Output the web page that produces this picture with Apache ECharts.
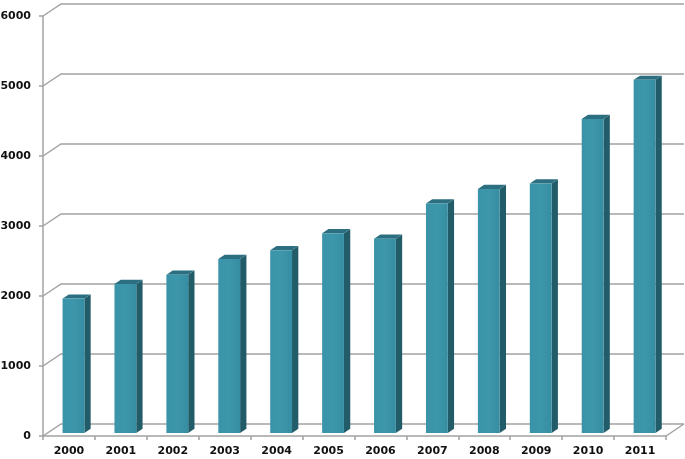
<!DOCTYPE html>
<html>
<head>
<meta charset="utf-8">
<script src="https://cdn.jsdelivr.net/npm/echarts@6/dist/echarts.min.js"></script>
<style>html,body{margin:0;padding:0;background:#fff}#c{width:685px;height:459px}</style>
</head>
<body>
<div id="c"></div>
<script>
const years = ['2000','2001','2002','2003','2004','2005','2006','2007','2008','2009','2010','2011'];
const values = [1920, 2130, 2260, 2485, 2610, 2855, 2775, 3280, 3485, 3565, 4485, 5045];
const yTicks = [0, 1000, 2000, 3000, 4000, 5000, 6000];

const DX = 18, DY = -12;          // full depth offset of the back wall
const FRONT = 0.25, BACK = 0.6;    // bar depth range (fraction of full depth)
const BAR_FRAC = 0.42;             // bar width as fraction of category band
const GRID_COLOR = '#a3a3a3';

const chart = echarts.init(document.getElementById('c'));

function wallItem(params, api) {
  const cs = params.coordSys;
  const v = api.value(1);
  const y = api.coord([0, v])[1];
  const x0 = cs.x, x1 = cs.x + cs.width;
  const children = [{
    type: 'polyline',
    shape: { points: [[x0, y], [x0 + DX, y + DY], [x1 + DX, y + DY]] },
    style: { stroke: GRID_COLOR, lineWidth: 1.5, fill: null }
  }];
  if (v === 0) {
    children.push({
      type: 'line',
      shape: { x1: x1, y1: y, x2: x1 + DX, y2: y + DY },
      style: { stroke: GRID_COLOR, lineWidth: 1.5 }
    });
  }
  return { type: 'group', children: children };
}

function barItem(params, api) {
  const i = api.value(0), v = api.value(1);
  const top = api.coord([i, v]);
  const base = api.coord([i, 0]);
  const band = api.size([1, 0])[0];
  const w = band * BAR_FRAC;
  const fx = FRONT * DX, fy = FRONT * DY;
  const bx = BACK * DX, by = BACK * DY;
  const L = top[0] - w / 2 + fx, R = top[0] + w / 2 + fx;
  const T = top[1] + fy, B = base[1] + fy;
  const sdx = bx - fx, sdy = by - fy;
  return {
    type: 'group',
    children: [
      { type: 'polygon', shape: { points: [[R, T], [R + sdx, T + sdy], [R + sdx, B + sdy], [R, B]] },
        style: { fill: '#235c69' } },
      { type: 'polygon', shape: { points: [[L, T], [L + sdx, T + sdy], [R + sdx, T + sdy], [R, T]] },
        style: { fill: '#2b6f80' } },
      { type: 'rect', shape: { x: L, y: T, width: R - L, height: B - T },
        style: { fill: new echarts.graphic.LinearGradient(0, 0, 1, 0, [
          { offset: 0, color: '#3a93a8' }, { offset: 0.5, color: '#3d97ab' }, { offset: 1, color: '#368da2' }]) } }
    ]
  };
}

chart.setOption({
  animation: false,
  grid: { left: 43, right: 19, top: 16, bottom: 23, containLabel: false, outerBoundsMode: 'none' },
  xAxis: {
    type: 'category',
    data: years,
    boundaryGap: true,
    axisLine: { show: true, lineStyle: { color: GRID_COLOR, width: 1.5 } },
    axisTick: { show: true, length: 4, lineStyle: { color: GRID_COLOR, width: 1.5 } },
    axisLabel: { color: '#111', fontFamily: 'DejaVu Sans', fontWeight: 'bold', fontSize: 11, margin: 10 },
    splitLine: { show: false }
  },
  yAxis: {
    type: 'value',
    min: 0, max: 6000, interval: 1000,
    axisLine: { show: true, lineStyle: { color: GRID_COLOR, width: 1.5 } },
    axisTick: { show: true, length: 4, lineStyle: { color: GRID_COLOR, width: 1.5 } },
    axisLabel: { color: '#111', fontFamily: 'DejaVu Sans', fontWeight: 'bold', fontSize: 11, margin: 12,
      formatter: v => String(v) },
    splitLine: { show: false }
  },
  series: [
    {
      type: 'custom', clip: false, z: 1, silent: true,
      renderItem: wallItem,
      data: yTicks.map(v => [0, v])
    },
    {
      type: 'custom', clip: false, z: 2,
      renderItem: barItem,
      data: values.map((v, i) => [i, v])
    }
  ]
});
</script>
</body>
</html>
